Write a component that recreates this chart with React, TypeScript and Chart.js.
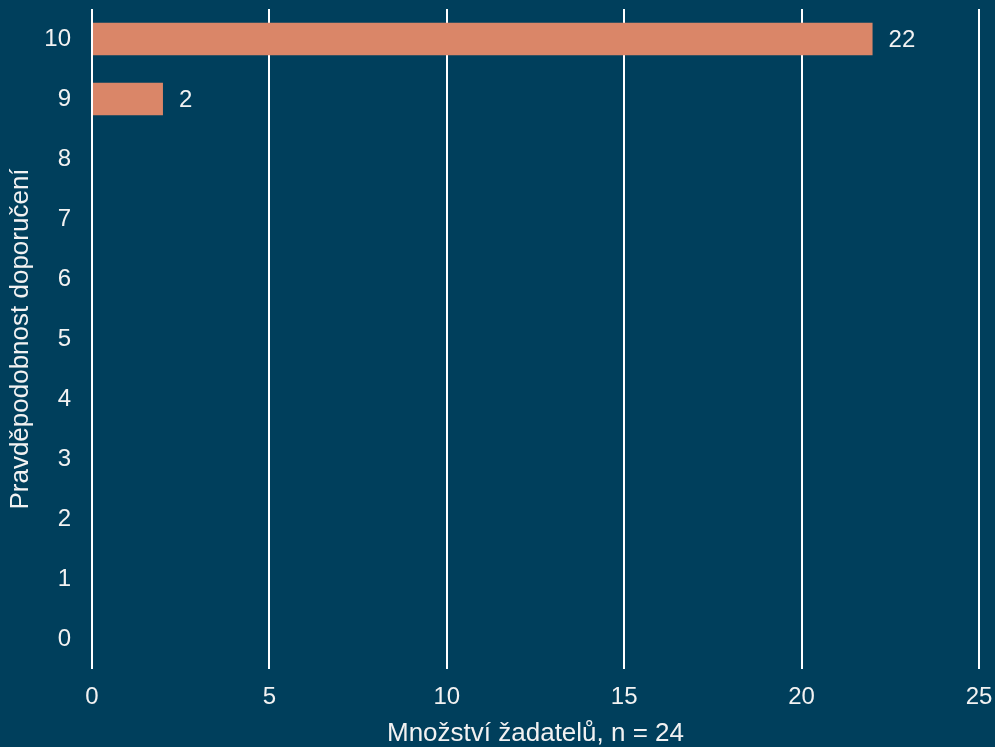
import React, { useEffect, useRef } from "react";
import { Chart, registerables } from "chart.js";

Chart.register(...registerables);

const categories = ["10", "9", "8", "7", "6", "5", "4", "3", "2", "1", "0"];
const counts = [22, 2, 0, 0, 0, 0, 0, 0, 0, 0, 0];
const xTicks = [0, 5, 10, 15, 20, 25];
const xTitle = "Množství žadatelů, n = 24";
const yTitle = "Pravděpodobnost doporučení";

const BG = "#003f5c";
const BAR = "#da8668";
const TXT = "#f2f2f2";
const FONT = "'Liberation Sans', Arial, sans-serif";

const labelPlugin = {
  id: "barLabels",
  afterDatasetsDraw(chart: any) {
    const ctx = chart.ctx;
    const meta = chart.getDatasetMeta(0);
    ctx.save();
    ctx.fillStyle = TXT;
    ctx.font = `24px ${FONT}`;
    ctx.textAlign = "left";
    ctx.textBaseline = "middle";
    meta.data.forEach((el: any, i: number) => {
      const v = counts[i];
      if (!v) return;
      ctx.fillText(String(v), el.x + 16, el.y + 1);
    });
    ctx.restore();
  },
};

export default function App() {
  const ref = useRef<HTMLCanvasElement | null>(null);
  useEffect(() => {
    document.body.style.margin = "0";
    document.body.style.background = BG;
    const chart = new Chart(ref.current!, {
      type: "bar",
      data: {
        labels: categories,
        datasets: [
          {
            data: counts,
            backgroundColor: BAR,
            borderWidth: 0,
            barPercentage: 0.54,
            categoryPercentage: 1,
          },
        ],
      },
      options: {
        indexAxis: "y",
        animation: false,
        responsive: false,
        maintainAspectRatio: false,
        layout: { padding: { top: 9, right: 16, left: 0, bottom: 0 } },
        plugins: { legend: { display: false }, tooltip: { enabled: false } },
        scales: {
          x: {
            min: 0,
            max: 25,
            afterBuildTicks: (s: any) => {
              s.ticks = xTicks.map((v) => ({ value: v }));
            },
            afterFit: (s: any) => {
              s.height = 78;
            },
            grid: {
              color: "#ffffff",
              lineWidth: 2,
              drawTicks: true,
              tickLength: 14,
              tickColor: "rgba(0,0,0,0)",
            },
            border: { display: false },
            ticks: { color: TXT, font: { family: FONT, size: 24 }, padding: 0 },
            title: {
              display: true,
              text: xTitle,
              color: TXT,
              font: { family: FONT, size: 26, lineHeight: 1.05 },
              padding: 0,
            },
          },
          y: {
            afterFit: (s: any) => {
              s.width = 92;
            },
            grid: { display: false, drawTicks: true, tickLength: 21 },
            border: { display: false },
            ticks: {
              color: TXT,
              font: { family: FONT, size: 24, lineHeight: 0.7 },
              padding: 0,
            },
            title: {
              display: true,
              text: yTitle,
              color: TXT,
              font: { family: FONT, size: 26 },
              padding: { top: 5, bottom: 0 },
            },
          },
        },
      },
      plugins: [labelPlugin],
    });
    return () => chart.destroy();
  }, []);
  return (
    <div style={{ width: 995, height: 747, background: BG }}>
      <canvas ref={ref} width={995} height={747} style={{ display: "block" }} />
    </div>
  );
}
